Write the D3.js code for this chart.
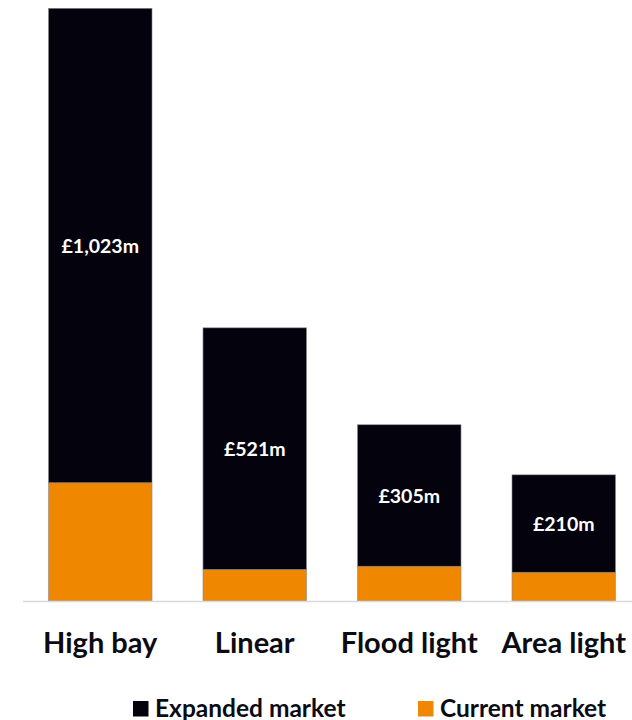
<!DOCTYPE html>
<html>
<head>
<meta charset="utf-8">
<script src="https://cdn.jsdelivr.net/npm/d3@7"></script>
<style>
  html, body { margin: 0; padding: 0; background: #ffffff; }
  svg { display: block; }
  text { font-family: Lato, "Open Sans", sans-serif; font-weight: 700; }
</style>
</head>
<body>
<svg id="chart" width="632" height="720"></svg>
<script>
// Lighting market size by fixture type, £m
const categories = ["High bay", "Linear", "Flood light", "Area light"];
const currentMarket = [255, 68, 75, 62];
const expandedMarket = [1023, 521, 305, 210];
const valueLabels = ["£1,023m", "£521m", "£305m", "£210m"];
const seriesNames = ["Expanded market", "Current market"];

const colors = { expanded: "#04030d", current: "#f08700" };

const svg = d3.select("#chart");

const rows = categories.map((c, i) => ({
  category: c,
  current: currentMarket[i],
  expanded: expandedMarket[i],
  label: valueLabels[i]
}));

const stack = d3.stack().keys(["current", "expanded"]);
const layers = stack(rows);

const x = d3.scaleBand()
  .domain(categories)
  .range([23, 641])
  .paddingInner(0.33)
  .paddingOuter(0.165);

const y = d3.scaleLinear()
  .domain([0, d3.max(rows, d => d.current + d.expanded)])
  .range([601, 8.3]);

// stacked bars
svg.append("g")
  .selectAll("g")
  .data(layers)
  .join("g")
  .attr("fill", d => colors[d.key])
  .selectAll("rect")
  .data(d => d)
  .join("rect")
  .attr("x", d => x(d.data.category))
  .attr("width", x.bandwidth())
  .attr("y", d => y(d[1]))
  .attr("height", d => y(d[0]) - y(d[1]))
  .attr("stroke", "#8a8a90")
  .attr("stroke-width", 0.6);

// baseline
svg.append("line")
  .attr("x1", 23).attr("x2", 632)
  .attr("y1", y(0) + 0.5).attr("y2", y(0) + 0.5)
  .attr("stroke", "#d9d9d9")
  .attr("stroke-width", 1.5);

// value labels inside the expanded segment
const expandedLayer = layers.find(l => l.key === "expanded");
svg.append("g")
  .selectAll("text")
  .data(expandedLayer)
  .join("text")
  .attr("x", d => x(d.data.category) + x.bandwidth() / 2)
  .attr("y", d => (y(d[0]) + y(d[1])) / 2)
  .attr("text-anchor", "middle")
  .attr("dominant-baseline", "central")
  .attr("fill", "#ffffff")
  .attr("font-size", 19.5)
  .text(d => d.data.label);

// category axis
const xAxis = d3.axisBottom(x).tickSize(0).tickPadding(0);
const axisG = svg.append("g")
  .attr("transform", `translate(0, ${y(0)})`)
  .call(xAxis);
axisG.select(".domain").remove();
axisG.selectAll("text")
  .attr("y", 52)
  .attr("dy", 0)
  .attr("fill", "#0b0b14")
  .attr("font-size", 29)
  .style("font-family", "Lato, sans-serif")
  .style("font-weight", 700);

// legend
const legendItems = [
  { name: seriesNames[0], color: colors.expanded, x: 133 },
  { name: seriesNames[1], color: colors.current, x: 418 }
];
const legend = svg.append("g")
  .selectAll("g")
  .data(legendItems)
  .join("g")
  .attr("transform", d => `translate(${d.x}, 701)`);
legend.append("rect")
  .attr("width", 15.5)
  .attr("height", 15.5)
  .attr("fill", d => d.color);
legend.append("text")
  .attr("x", 22)
  .attr("y", 15.5)
  .attr("fill", "#0b0b14")
  .attr("font-size", 24.5)
  .text(d => d.name);
</script>
</body>
</html>
